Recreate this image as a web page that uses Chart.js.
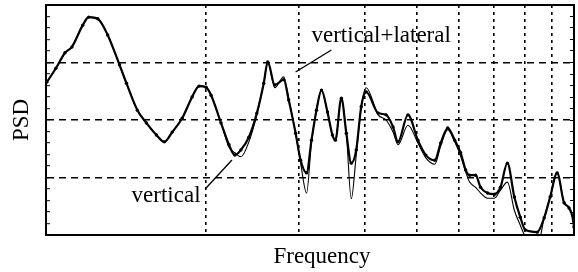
<!DOCTYPE html>
<html>
<head>
<meta charset="utf-8">
<script src="https://cdn.jsdelivr.net/npm/chart.js@4/dist/chart.umd.min.js"></script>
<style>
  html, body { margin: 0; padding: 0; background: #fff; }
</style>
</head>
<body>
<canvas id="Chart" width="578" height="272"></canvas>
<script>
// frequency axis (log, no tick labels in the original)
const freq = [1.004, 1.044, 1.086, 1.119, 1.173, 1.204, 1.252, 1.307, 1.376, 1.418,
  1.487, 1.546, 1.615, 1.671, 1.730, 1.806, 1.886, 1.944, 2.004, 2.048,
  2.138, 2.213, 2.271, 2.331, 2.413, 2.498, 2.574, 2.619, 2.700, 2.807,
  2.868, 2.956, 3.021, 3.100, 3.167, 3.236, 3.307, 3.394, 3.468, 3.513,
  3.605, 3.684, 3.764, 3.846, 3.930, 4.016, 4.230, 4.378, 4.512, 4.611,
  4.814, 5.026, 5.203, 5.409, 5.551, 5.722, 5.898, 6.052, 6.185, 6.292,
  6.458, 6.599, 6.800, 7.009, 7.193, 7.413, 7.641, 7.841, 8.012, 8.439,
  8.698, 8.926, 9.201, 9.483, 9.690, 9.901, 9.944];

const psdVertical = [2.66, 2.90, 3.17, 3.27, 3.65, 3.79, 3.76, 3.48, 2.96, 2.64,
  2.17, 1.95, 1.74, 1.62, 1.79, 2.03, 2.40, 2.59, 2.57, 2.43,
  1.95, 1.57, 1.39, 1.48, 1.70, 2.12, 2.64, 3.01, 2.61, 2.70,
  2.35, 1.77, 1.30, 1.08, 1.65, 2.17, 2.52, 2.14, 1.74, 1.65,
  2.38, 1.77, 1.25, 1.48, 2.23, 2.49, 2.12, 2.09, 1.88, 1.62,
  2.09, 1.65, 1.39, 1.30, 1.60, 1.86, 1.65, 1.43, 1.13, 1.04,
  1.04, 0.83, 0.73, 0.71, 0.83, 1.25, 0.66, 0.31, 0.09, 0.05,
  0.30, 0.66, 1.08, 0.56, 0.47, 0.14, -0.12];

const psdVerticalLateral = [2.66, 2.90, 3.17, 3.27, 3.65, 3.79, 3.76, 3.48, 2.96, 2.64,
  2.17, 1.95, 1.74, 1.62, 1.79, 2.03, 2.40, 2.59, 2.57, 2.43,
  1.95, 1.53, 1.43, 1.36, 1.62, 2.09, 2.64, 3.01, 2.56, 2.75,
  2.38, 1.77, 1.25, 0.73, 1.62, 2.17, 2.52, 2.14, 1.74, 1.65,
  2.38, 1.77, 0.63, 1.39, 2.23, 2.56, 2.09, 2.00, 1.79, 1.57,
  1.91, 1.60, 1.34, 1.23, 1.55, 1.83, 1.62, 1.37, 1.10, 0.92,
  0.83, 0.73, 0.64, 0.64, 0.78, 0.92, 0.43, 0.17, -0.03, -0.21,
  0.30, 0.66, 1.08, 0.56, 0.47, 0.14, -0.12];

// labels inside the plot, placed in data units
const noteText = ['vertical+lateral', 'vertical'];
const noteAt = [[3.167, 3.357], [1.450, 0.574]];
const leaderFrom = [[3.452, 3.217], [2.004, 0.817]];
const leaderTo = [[2.956, 2.835], [2.242, 1.304]];

const serif = 'Liberation Serif';
Chart.defaults.color = '#000';
Chart.defaults.font.family = serif;

const isWhole = v => Math.abs(v - Math.round(v)) < 1e-6;

// draws the two callouts and the x axis caption
const notes = {
  id: 'notes',
  afterDraw(chart) {
    const { ctx, chartArea, scales: { x, y } } = chart;
    ctx.save();
    ctx.fillStyle = '#000';
    ctx.strokeStyle = '#000';
    ctx.lineWidth = 1.3;
    ctx.font = '23px "' + serif + '"';
    ctx.textBaseline = 'alphabetic';
    noteText.forEach((t, i) => {
      ctx.fillText(t, x.getPixelForValue(noteAt[i][0]), y.getPixelForValue(noteAt[i][1]));
      ctx.beginPath();
      ctx.moveTo(x.getPixelForValue(leaderFrom[i][0]), y.getPixelForValue(leaderFrom[i][1]));
      ctx.lineTo(x.getPixelForValue(leaderTo[i][0]), y.getPixelForValue(leaderTo[i][1]));
      ctx.stroke();
    });
    ctx.textAlign = 'center';
    ctx.fillText('Frequency', chartArea.left + 276, chartArea.bottom + 28);
    ctx.restore();
  }
};

const chart = new Chart(document.getElementById('Chart'), {
  type: 'line',
  data: {
    datasets: [{
      label: 'vertical',
      data: freq.map((f, i) => ({ x: f, y: psdVertical[i] })),
      borderColor: '#000',
      borderWidth: 2.2,
      pointRadius: 1.7,
      pointBackgroundColor: '#000',
      pointBorderWidth: 0,
      cubicInterpolationMode: 'monotone',
      clip: 0
    }, {
      label: 'vertical+lateral',
      data: freq.map((f, i) => ({ x: f, y: psdVerticalLateral[i] })),
      borderColor: '#000',
      borderWidth: 1.1,
      pointRadius: 0,
      cubicInterpolationMode: 'monotone',
      clip: 0
    }]
  },
  options: {
    responsive: false,
    animation: false,
    layout: { padding: { top: 5, right: 1, left: 0, bottom: 0 } },
    plugins: { legend: { display: false }, tooltip: { enabled: false } },
    scales: {
      x: {
        type: 'logarithmic',
        min: 1,
        max: 9.9,
        afterFit: s => { s.height = 37; },
        ticks: { display: false },
        grid: {
          // only the whole-number decade lines 2..9 are drawn
          color: c => (isWhole(c.tick.value) && c.tick.value > 1 && c.tick.value < 9.8) ? '#000' : 'rgba(0,0,0,0)',
          lineWidth: 1.6,
          drawTicks: false
        },
        border: { display: true, color: '#000', width: 2, dash: [3, 4] }
      },
      y: {
        type: 'linear',
        min: 0,
        max: 4,
        afterFit: s => { s.width = 46; },
        ticks: { display: false, stepSize: 0.2 },
        grid: {
          color: c => isWhole(c.tick.value) ? '#000' : 'rgba(0,0,0,0)',
          tickColor: '#000',
          tickLength: -4,
          tickWidth: 1,
          lineWidth: 1.4
        },
        border: { display: true, color: '#000', width: 2, dash: [7, 5] },
        title: {
          display: true,
          text: 'PSD',
          font: { family: serif, size: 23 },
          padding: { top: 8, bottom: 0 }
        }
      },
      xTop: {
        type: 'linear',
        position: 'top',
        afterFit: s => { s.height = 0; },
        ticks: { display: false },
        grid: { drawOnChartArea: false, drawTicks: false },
        border: { display: true, color: '#000', width: 2 }
      },
      yRight: {
        type: 'linear',
        position: 'right',
        min: 0,
        max: 4,
        afterFit: s => { s.width = 0; },
        ticks: { display: false, stepSize: 0.2 },
        grid: { drawOnChartArea: false, tickLength: -4, color: '#000', lineWidth: 1 },
        border: { display: true, color: '#000', width: 2 }
      }
    }
  },
  plugins: [notes]
});
</script>
</body>
</html>
